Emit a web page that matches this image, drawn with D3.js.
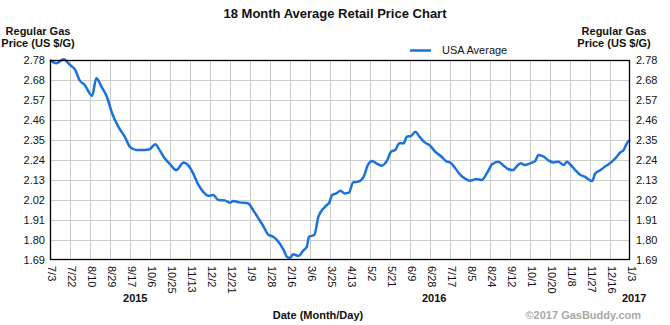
<!DOCTYPE html>
<html>
<head>
<meta charset="utf-8">
<script src="https://cdn.jsdelivr.net/npm/d3@7"></script>
<style>
  html, body { margin: 0; padding: 0; background: #fff; }
  svg { display: block; font-family: Arial, "Liberation Sans", sans-serif; }
</style>
</head>
<body>
<svg id="chart" width="670" height="325"></svg>
<script>
// ---- data ----
const startDate = "2015-07-03";
// day offset from 2015-07-03
const days = [0,6,13,19,24,28,33,40,44,49,54,59,65,71,76,82,90,95,100,104,109,114,120,127,131,136,141,146,150,155,160,166,171,174,180,188,193,198,203,207,212,217,222,225,228,231,236,241,244,246,251,255,260,263,265,268,272,276,280,284,288,293,298,302,306,310,315,320,324,328,332,336,339,343,347,351,356,361,366,372,377,380,385,390,394,399,405,410,415,420,426,431,435,440,443,447,451,456,461,464,469,473,478,483,488,491,494,499,504,508,515,518,523,527,532,537,542,545,548,551];
const prices = [2.780,2.762,2.784,2.753,2.726,2.671,2.644,2.585,2.680,2.634,2.580,2.490,2.416,2.362,2.307,2.290,2.290,2.295,2.321,2.290,2.244,2.212,2.180,2.222,2.208,2.162,2.099,2.059,2.040,2.044,2.017,2.015,2.002,2.012,2.004,1.999,1.962,1.917,1.871,1.830,1.817,1.790,1.744,1.708,1.702,1.721,1.712,1.744,1.762,1.817,1.826,1.926,1.972,1.990,1.999,2.044,2.053,2.068,2.053,2.057,2.113,2.117,2.144,2.208,2.230,2.217,2.204,2.230,2.280,2.290,2.326,2.326,2.362,2.366,2.389,2.362,2.331,2.313,2.280,2.253,2.226,2.222,2.190,2.153,2.135,2.122,2.131,2.126,2.162,2.212,2.226,2.204,2.186,2.180,2.198,2.217,2.208,2.217,2.230,2.262,2.253,2.235,2.222,2.226,2.208,2.226,2.212,2.180,2.153,2.144,2.120,2.162,2.180,2.198,2.217,2.244,2.277,2.290,2.326,2.344];
const xTickLabels = ["7/3","7/22","8/10","8/29","9/17","10/6","10/25","11/13","12/2","12/21","1/9","1/28","2/16","3/6","3/25","4/13","5/2","5/21","6/9","6/28","7/17","8/5","8/24","9/12","10/1","10/20","11/8","11/27","12/16","1/3"];
const xTickStep = 19;
const yTickLabels = ["1.69","1.80","1.91","2.02","2.13","2.24","2.35","2.46","2.57","2.68","2.78"];
const yearLabels = ["2015","2016","2017"];
const yearPositions = [81, 365, 555]; // day offsets where year labels sit
const seriesName = "USA Average";

// ---- layout ----
const svg = d3.select("#chart");
const L = 50, R = 630, T = 60, B = 260;
const yMin = 1.69, yMax = 2.78;
const x = d3.scaleLinear().domain([0, xTickStep * (xTickLabels.length - 1)]).range([L, R]);
const y = d3.scaleLinear().domain([yMin, yMax]).range([B, T]);
const yTickVals = yTickLabels.map((_, i) => yMin + i * (yMax - yMin) / (yTickLabels.length - 1));
const xTickVals = xTickLabels.map((_, i) => i * xTickStep);

// grid
const grid = svg.append("g").attr("stroke", "#cccccc").attr("stroke-width", 1);
grid.selectAll("line.v").data(xTickVals.slice(1, -1)).join("line")
  .attr("x1", d => Math.round(x(d)) + 0.5).attr("x2", d => Math.round(x(d)) + 0.5)
  .attr("y1", T).attr("y2", B);
grid.selectAll("line.h").data(yTickVals.slice(1, -1)).join("line")
  .attr("y1", d => Math.round(y(d)) + 0.5).attr("y2", d => Math.round(y(d)) + 0.5)
  .attr("x1", L).attr("x2", R);

// axes (labels only)
const leftAxis = d3.axisLeft(y).tickValues(yTickVals).tickSize(0).tickPadding(5)
  .tickFormat((d, i) => yTickLabels[i]);
const rightAxis = d3.axisRight(y).tickValues(yTickVals).tickSize(0).tickPadding(6)
  .tickFormat((d, i) => yTickLabels[i]);
const bottomAxis = d3.axisBottom(x).tickValues(xTickVals).tickSize(0)
  .tickFormat((d, i) => xTickLabels[i]);

function styleAxis(g) {
  g.select(".domain").remove();
  g.selectAll("text").attr("font-size", 11).attr("fill", "#111")
    .attr("font-family", "Arial, 'Liberation Sans', sans-serif");
}
svg.append("g").attr("transform", `translate(${L},0)`).call(leftAxis).call(styleAxis);
svg.append("g").attr("transform", `translate(${R},0)`).call(rightAxis).call(styleAxis);
const bx = svg.append("g").attr("transform", `translate(0,${B})`).call(bottomAxis).call(styleAxis);
bx.selectAll(".tick text")
  .attr("text-anchor", "start")
  .attr("x", 0).attr("y", 0).attr("dy", "0.35em")
  .attr("transform", "translate(1,6) rotate(90)");

// line
const data = days.map((d, i) => ({ d, v: prices[i] }));
const line = d3.line().x(p => x(p.d)).y(p => y(p.v)).curve(d3.curveMonotoneX);
svg.append("path").datum(data)
  .attr("fill", "none").attr("stroke", "#1c72dc").attr("stroke-width", 2.5)
  .attr("stroke-linejoin", "round").attr("d", line);

// frame
svg.append("rect").attr("x", L + 0.5).attr("y", T + 0.5).attr("width", R - L - 1).attr("height", B - T - 1)
  .attr("fill", "none").attr("stroke", "#000").attr("stroke-width", 1.3);

// title
svg.append("text").attr("x", 335).attr("y", 18).attr("text-anchor", "middle")
  .attr("font-size", 13).attr("font-weight", "bold").attr("fill", "#111")
  .text("18 Month Average Retail Price Chart");

// axis titles
[38, 614].forEach(cx => {
  const t = svg.append("text").attr("text-anchor", "middle").attr("font-size", 11)
    .attr("font-weight", "bold").attr("fill", "#111");
  t.append("tspan").attr("x", cx).attr("y", 35).text("Regular Gas");
  t.append("tspan").attr("x", cx).attr("y", 47).text("Price (US $/G)");
});

// legend
svg.append("line").attr("x1", 410).attr("x2", 431).attr("y1", 50.5).attr("y2", 50.5)
  .attr("stroke", "#1c72dc").attr("stroke-width", 2.5);
svg.append("text").attr("x", 442).attr("y", 54).attr("font-size", 11).attr("fill", "#111")
  .text(seriesName);

// years
svg.selectAll("text.year").data(yearLabels).join("text").attr("class", "year")
  .attr("x", (d, i) => x(yearPositions[i])).attr("y", 302).attr("text-anchor", "middle")
  .attr("font-size", 11).attr("font-weight", "bold").attr("fill", "#111").text(d => d);

// x title
svg.append("text").attr("x", 318).attr("y", 319).attr("text-anchor", "middle")
  .attr("font-size", 11).attr("font-weight", "bold").attr("fill", "#111")
  .text("Date (Month/Day)");

// copyright
svg.append("text").attr("x", 641).attr("y", 319).attr("text-anchor", "end")
  .attr("font-size", 11).attr("font-weight", "bold").attr("fill", "#a8a8a8")
  .text("©2017 GasBuddy.com");
</script>
</body>
</html>
